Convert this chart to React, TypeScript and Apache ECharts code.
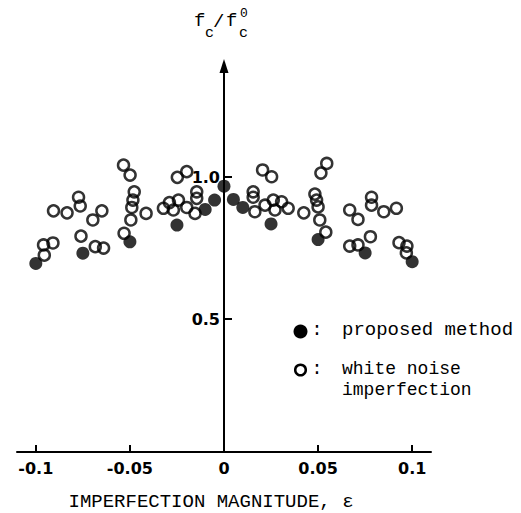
import React, { useEffect, useRef } from "react";
import * as echarts from "echarts";

// Proposed method (filled dots): [epsilon, fc/fc0]
const proposedEps = [-0.1, -0.075, -0.05, -0.025, -0.01, -0.005, 0, 0.005, 0.01, 0.025, 0.05, 0.075, 0.1];
const proposedVal = [0.696, 0.732, 0.772, 0.831, 0.886, 0.919, 0.968, 0.921, 0.893, 0.835, 0.78, 0.733, 0.702];

// White noise imperfection (open circles)
const noiseEps = [
  -0.0959, -0.0909, -0.0955,
  -0.0906, -0.0834, -0.0773, -0.0764, -0.0649, -0.0697, -0.076, -0.0684, -0.064,
  -0.0534, -0.0499, -0.0477, -0.0484, -0.049, -0.0495, -0.0531, -0.0414,
  -0.0322, -0.029, -0.0269, -0.0242, -0.0198, -0.0154, -0.0248, -0.0198, -0.0145, -0.0145,
  0.0155, 0.0155, 0.0164, 0.0205, 0.0253, 0.0218, 0.0262, 0.0306, 0.0341, 0.0424, 0.0271,
  0.0546, 0.0515, 0.0483, 0.0492, 0.05, 0.0509, 0.0541,
  0.0668, 0.0712, 0.0784, 0.0784, 0.0849, 0.0916, 0.0778, 0.0668, 0.0712,
  0.093, 0.0972, 0.0969,
];
const noiseVal = [
  0.761, 0.768, 0.725,
  0.881, 0.874, 0.929, 0.898, 0.881, 0.849, 0.792, 0.755, 0.75,
  1.042, 1.007, 0.948, 0.919, 0.893, 0.849, 0.802, 0.872,
  0.89, 0.91, 0.884, 0.919, 0.893, 0.872, 0.999, 1.019, 0.948, 0.925,
  0.948, 0.929, 0.878, 1.025, 1.001, 0.901, 0.919, 0.913, 0.89, 0.874, 0.884,
  1.048, 1.014, 0.94, 0.919, 0.895, 0.849, 0.806,
  0.884, 0.851, 0.929, 0.901, 0.878, 0.89, 0.79, 0.757, 0.761,
  0.769, 0.757, 0.733,
];

const xTicks = [-0.1, -0.05, 0, 0.05, 0.1];
const yTicks = [0.5, 1.0];

const xTitle = "IMPERFECTION MAGNITUDE, \u03b5";
const legendProposed = "proposed method";
const legendNoise1 = "white noise";
const legendNoise2 = "imperfection";

const MONO = "'Liberation Mono', 'DejaVu Sans Mono', monospace";
const BOLD = "'DejaVu Sans', 'Liberation Sans', sans-serif";

const GRID_LEFT = 17;
const GRID_WIDTH = 414;
const X_MIN = -0.11;
const X_MAX = 0.11;

export default function App() {
  const ref = useRef<HTMLDivElement>(null);
  useEffect(() => {
    if (!ref.current) return;
    const chart = echarts.init(ref.current, undefined, { renderer: "svg" });
    const txt = (text: string, x: number, y: number, size: number, align = "left") => ({
      type: "text",
      x,
      y,
      silent: true,
      style: {
        text,
        fill: "#000",
        font: `${size}px ${MONO}`,
        textAlign: align,
        textVerticalAlign: "middle",
      },
    });
    // place the y axis at epsilon = 0 via an inward offset
    const zeroOffset = -((0 - X_MIN) / (X_MAX - X_MIN)) * GRID_WIDTH;
    chart.setOption({
      animation: false,
      backgroundColor: "#fff",
      grid: {
        left: GRID_LEFT,
        width: GRID_WIDTH,
        top: 66,
        bottom: 61,
        containLabel: false,
        outerBoundsMode: "none",
      },
      xAxis: {
        type: "value",
        min: X_MIN,
        max: X_MAX,
        axisLine: { onZero: false, lineStyle: { color: "#000", width: 2 } },
        axisTick: { inside: true, length: 7, customValues: xTicks, lineStyle: { color: "#000", width: 2 } },
        axisLabel: {
          customValues: xTicks,
          margin: 8,
          color: "#000",
          fontFamily: BOLD,
          fontWeight: "bold",
          fontSize: 16,
          formatter: (v: number) => (v === 0 ? "0" : String(v)),
        },
        splitLine: { show: false },
      },
      yAxis: {
        type: "value",
        min: 0.032,
        max: 1.391,
        offset: zeroOffset,
        axisLine: {
          onZero: false,
          symbol: ["none", "triangle"],
          symbolSize: [9, 14],
          lineStyle: { color: "#000", width: 2 },
        },
        axisTick: { inside: true, length: 8, customValues: yTicks, lineStyle: { color: "#000", width: 2 } },
        axisLabel: {
          customValues: yTicks,
          margin: 4,
          color: "#000",
          fontFamily: BOLD,
          fontWeight: "bold",
          fontSize: 16,
          formatter: (v: number) => v.toFixed(1),
        },
        splitLine: { show: false },
      },
      series: [
        {
          type: "scatter",
          name: "white noise imperfection",
          data: noiseEps.map((e, i) => [e, noiseVal[i]]),
          symbol: "circle",
          symbolSize: 11,
          itemStyle: { color: "rgba(255,255,255,0)", borderColor: "#000", borderWidth: 2.5 },
          silent: true,
          z: 3,
        },
        {
          type: "scatter",
          name: "proposed method",
          data: proposedEps.map((e, i) => [e, proposedVal[i]]),
          symbol: "circle",
          symbolSize: 13,
          itemStyle: { color: "#000" },
          silent: true,
          z: 4,
        },
      ],
      graphic: [
        txt("f", 194, 21, 19),
        txt("c", 205, 33, 15),
        txt("/", 213, 22, 19),
        txt("f", 226, 21, 19),
        txt("c", 239, 33, 15),
        txt("0", 240, 13, 13),
        { type: "circle", silent: true, shape: { cx: 300.5, cy: 331.5, r: 7 }, style: { fill: "#000" } },
        txt(":", 317, 330, 19, "center"),
        txt(legendProposed, 342, 330, 19),
        {
          type: "circle",
          silent: true,
          shape: { cx: 300.5, cy: 370, r: 5.3 },
          style: { fill: "none", stroke: "#000", lineWidth: 2.5 },
        },
        txt(":", 317, 369, 19, "center"),
        txt(legendNoise1, 342, 369, 18),
        txt(legendNoise2, 342, 390, 18),
        txt(xTitle, 211, 502, 19, "center"),
      ],
    });
    return () => chart.dispose();
  }, []);
  return <div ref={ref} style={{ position: "absolute", left: 0, top: 0, width: 521, height: 513 }} />;
}
